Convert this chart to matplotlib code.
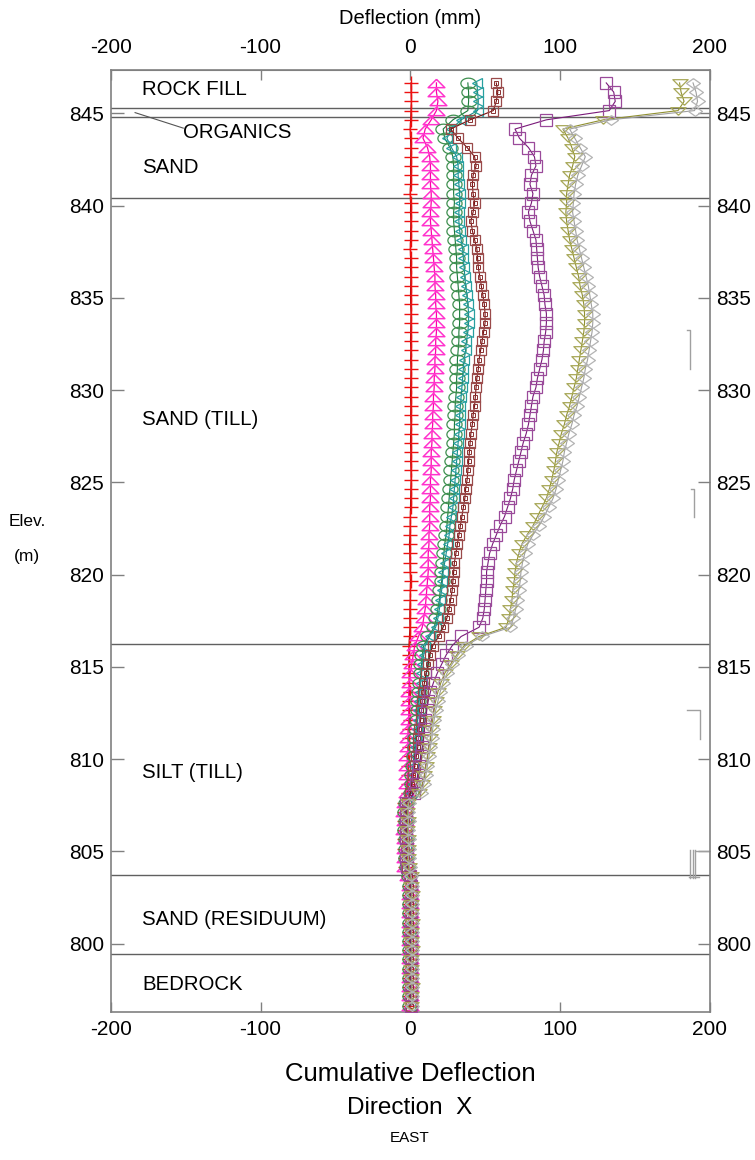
import numpy as np
import matplotlib.pyplot as plt

plt.rcParams['font.family'] = ['Liberation Sans', 'DejaVu Sans']
plt.rcParams['axes.unicode_minus'] = False

# elevation of each inclinometer reading (m), every 0.5 m
elev = np.arange(846.65, 796.6, -0.5)

# cumulative deflection (mm) for each survey
defl_red = [0.5, 0.6, 0.8, 0.5, 0.3, 0.0, 0.2, 0.4, 0.3, 0.2,
            0.3, 0.2, 0.0, 0.3, 0.2, 0.4, 0.3, 0.2, 0.1, 0.3,
            0.2, 0.4, 0.3, 0.2, 0.3, 0.5, 0.4, 0.3, 0.2, 0.4,
            0.3, 0.5, 0.4, 0.3, 0.2, 0.4, 0.3, 0.5, 0.3, 0.2,
            0.4, 0.3, 0.5, 0.6, 0.4, 0.3, 0.2, 0.1, 0.0, -0.2,
            -0.5, -0.3, -0.2, 0.0, 0.2, 0.1, 0.0, -0.2, -0.3, -0.2,
            -0.5, -0.8, -1.0, -0.8, -0.7, -0.6, -0.5, -0.7, -0.6, -0.5,
            -0.6, -0.7, -0.8, -1.0, -1.2, -1.3, -1.5, -1.8, -4.0, -4.3,
            -4.1, -4.0, -4.2, -3.9, -3.7, -3.3, -1.6, -1.0, -0.9, -1.0,
            -0.8, -0.9, -1.0, -0.8, -0.9, -0.7, -0.8, -0.9, -0.8, -0.7, -0.8]
defl_magenta = [17.5, 17.5, 18.5, 17.5, 14.0, 10.0, 8.5, 11.5, 13.0, 13.5,
                13.5, 13.5, 14.0, 14.0, 13.5, 13.5, 14.0, 14.5, 15.0, 15.5,
                16.0, 16.5, 16.5, 17.0, 17.0, 17.5, 17.5, 17.5, 17.0, 17.0,
                16.5, 16.5, 16.0, 16.0, 15.5, 15.5, 15.0, 15.0, 14.5, 14.5,
                14.0, 14.0, 14.0, 13.5, 13.5, 13.5, 13.0, 13.0, 13.0, 12.5,
                12.5, 12.0, 12.0, 12.0, 11.5, 11.0, 10.5, 10.0, 9.0, 8.0,
                5.5, 3.0, 2.0, 1.0, 0.0, -0.5, -1.0, -1.0, -1.0, -1.0,
                -1.5, -1.5, -1.5, -2.0, -2.0, -2.0, -2.5, -2.5, -3.8, -4.0,
                -3.8, -4.0, -3.8, -3.6, -3.6, -3.2, -1.2, -0.5, -0.3, -0.5,
                -0.3, -0.5, -0.4, -0.3, -0.5, -0.3, -0.4, -0.5, -0.3, -0.4, -0.5]
defl_green = [38.5, 39.0, 39.0, 38.5, 28.5, 22.0, 23.0, 26.5, 28.5, 29.0,
              29.0, 29.0, 29.0, 29.5, 29.0, 29.0, 29.5, 30.0, 30.5, 31.0,
              31.0, 31.5, 32.0, 32.5, 33.0, 33.0, 33.0, 32.5, 32.5, 32.0,
              31.5, 31.5, 31.0, 31.0, 30.5, 30.0, 30.0, 29.5, 29.5, 29.0,
              28.5, 28.0, 27.5, 27.0, 26.5, 26.0, 25.5, 25.0, 24.5, 24.0,
              23.0, 22.5, 22.0, 21.5, 21.0, 20.0, 19.5, 18.5, 17.5, 16.0,
              12.0, 9.0, 8.0, 7.5, 7.0, 6.5, 6.0, 5.5, 5.0, 4.5,
              4.0, 3.5, 3.0, 2.5, 2.0, 1.5, 1.0, 0.5, -3.0, -3.3,
              -3.1, -3.3, -3.0, -2.9, -3.1, -2.5, -0.7, 0.0, 0.1, -0.1,
              0.0, 0.1, -0.1, 0.0, 0.1, 0.0, -0.1, 0.0, 0.1, 0.0, -0.1]
defl_teal = [44.5, 45.0, 45.5, 45.0, 34.0, 27.5, 24.5, 27.5, 31.0, 32.0,
             32.0, 32.5, 33.0, 33.0, 32.5, 32.5, 33.0, 34.0, 35.0, 35.5,
             36.0, 36.5, 37.0, 38.0, 38.5, 39.0, 39.0, 38.5, 37.5, 37.0,
             36.0, 35.5, 35.0, 34.5, 34.0, 33.5, 33.0, 33.0, 32.5, 32.0,
             31.5, 31.0, 30.5, 30.0, 29.5, 29.0, 28.5, 27.5, 26.5, 26.0,
             25.0, 24.0, 23.0, 22.0, 21.5, 21.0, 20.0, 19.5, 18.5, 17.0,
             13.0, 10.0, 9.0, 8.0, 7.5, 7.0, 6.5, 6.0, 5.5, 5.0,
             4.5, 4.0, 3.5, 3.0, 2.0, 1.5, 1.0, 0.5, -2.8, -3.0,
             -2.9, -3.1, -2.8, -2.7, -2.9, -2.3, -0.5, 0.2, 0.3, 0.1,
             0.2, 0.3, 0.1, 0.2, 0.3, 0.2, 0.1, 0.2, 0.3, 0.2, 0.1]
defl_brown = [57.5, 58.5, 57.5, 55.5, 40.0, 27.0, 32.0, 38.0, 43.0, 44.0,
              42.0, 41.5, 42.0, 43.0, 42.0, 40.5, 41.5, 43.0, 44.5, 45.0,
              45.5, 46.5, 47.5, 48.5, 49.5, 50.0, 50.0, 49.0, 48.0, 47.0,
              46.0, 45.5, 44.5, 44.0, 43.5, 43.0, 42.0, 41.5, 40.5, 40.0,
              39.5, 39.0, 38.5, 38.0, 37.0, 36.5, 35.5, 34.5, 33.5, 32.5,
              31.5, 30.5, 29.5, 29.0, 28.5, 28.0, 27.0, 26.0, 24.5, 22.0,
              19.0, 15.0, 13.0, 12.0, 10.5, 9.5, 8.5, 8.0, 7.5, 7.0,
              6.0, 5.5, 5.0, 4.0, 3.0, 2.0, 1.0, 0.0, -2.4, -2.7,
              -2.5, -2.7, -2.4, -2.3, -2.5, -1.9, -0.2, 0.5, 0.6, 0.4,
              0.5, 0.6, 0.4, 0.5, 0.6, 0.5, 0.4, 0.5, 0.6, 0.5, 0.4]
defl_purple = [131, 136, 137, 133, 91, 70, 73, 79, 83, 84,
               81, 80, 82, 81, 79, 80, 82, 84, 84.5, 85,
               85.5, 86.5, 88, 89.5, 90, 91, 91, 90.5, 89.5, 89,
               88, 86.5, 85, 84, 82, 81, 80, 79, 77.5, 75.5,
               74, 72.5, 71, 69.5, 68.5, 67, 65, 63, 60, 57.5,
               55, 53, 52, 51, 51, 50.5, 50, 49.5, 48.5, 46,
               34, 28, 24, 21, 18, 15.5, 13.5, 12, 11, 10,
               9.5, 9, 8, 7, 6, 5, 4, 2.5, -2.6, -2.9,
               -2.7, -2.9, -2.6, -2.5, -2.7, -2.1, -0.4, 0.3, 0.4, 0.2,
               0.3, 0.4, 0.2, 0.3, 0.4, 0.3, 0.2, 0.3, 0.4, 0.3, 0.2]
defl_olive = [180, 181, 183, 179, 129, 102, 105.5, 108, 110, 108.5,
              106.5, 105.5, 104.5, 104.5, 104, 104.5, 105.5, 106.5, 108, 109.5,
              111, 112.5, 113.5, 115, 116, 116.5, 116.5, 116, 115, 114,
              113, 112, 111, 109.5, 108, 106.5, 104.5, 103, 101, 99.5,
              98, 97, 96, 94.5, 93, 91, 88, 85, 82, 78,
              74.5, 72.5, 71, 70, 69.5, 68.5, 68, 67, 66, 64,
              46, 36, 31, 27, 23, 20.5, 18.5, 17, 16, 15,
              14, 13.5, 12.5, 11.5, 10.5, 9.5, 8, 6, -1.6, -1.9,
              -1.7, -1.9, -1.6, -1.5, -1.7, -1.1, 0.3, 0.8, 0.9, 0.7,
              0.8, 0.9, 0.7, 0.8, 0.9, 0.8, 0.7, 0.8, 0.9, 0.8, 0.7]
defl_gray = [189, 191, 192, 190, 134, 106.5, 110, 113.5, 117, 114.5,
             112, 110.5, 109.5, 109, 108.5, 109.5, 110.5, 111.5, 113, 114.5,
             116, 117.5, 119, 120, 121, 122, 122, 121.5, 120.5, 119.5,
             118.5, 117, 116, 114.5, 113, 111.5, 109.5, 108, 106, 104.5,
             103, 102, 100.5, 99, 97.5, 95.5, 92.5, 89.5, 86, 82,
             78.5, 76.5, 75, 74, 73.5, 72.5, 71.5, 70.5, 69, 67,
             48, 37, 32, 28, 24.5, 22, 20, 18.5, 17, 16,
             15, 14.5, 13.5, 12.5, 11.5, 10.5, 9, 7, -1.0, -1.3,
             -1.1, -1.3, -1.0, -0.9, -1.1, -0.5, 0.6, 1.1, 1.2, 1.0,
             1.1, 1.2, 1.0, 1.1, 1.2, 1.1, 1.0, 1.1, 1.2, 1.1, 1.0]

# soil layers
layer_bounds = [845.28, 844.83, 840.40, 816.25, 803.73, 799.45]
layer_names = ['ROCK FILL', 'SAND', 'SAND (TILL)', 'SILT (TILL)',
               'SAND (RESIDUUM)', 'BEDROCK']
layer_label_y = [846.27, 842.05, 828.4, 809.3, 801.3, 797.8]

# custom marker shapes (flattened like the original plot)
t = np.linspace(0, 2 * np.pi, 25)
ellipse = list(zip(np.cos(t), 0.7 * np.sin(t)))
tri_up = [(0, 0.5), (-1, -0.5), (1, -0.5), (0, 0.5)]
tri_down = [(0, -0.5), (-1, 0.5), (1, 0.5), (0, -0.5)]
diamond = [(0, 0.7), (-1, 0), (0, -0.7), (1, 0), (0, 0.7)]

fig = plt.figure(figsize=(7.55, 11.6), dpi=100)
ax = fig.add_axes([111 / 755, 1 - 1012 / 1160, 598.5 / 755, 942 / 1160])

for y in layer_bounds:
    ax.axhline(y, color='#606060', lw=1.0, zorder=1)

ax.plot(defl_red, elev, color='#a01010', lw=0.9, marker='+', ms=10.5, mec='#ee1111', mew=1.0, zorder=3)
ax.plot(defl_magenta, elev, color='#ff00aa', lw=0.9, marker=tri_up, ms=12, mfc='none', mec='#ff33cc', mew=1.1, zorder=3)
ax.plot(defl_green, elev, color='#1a7a3a', lw=0.8, marker=ellipse, ms=11, mfc='none', mec='#3f9050', mew=0.9, zorder=3)
ax.plot(defl_teal, elev, color='#1a8a8a', lw=0.8, marker='<', ms=7, mfc='none', mec='#28a0a0', mew=0.9, zorder=3)
ax.plot(defl_brown, elev, color='#7a1010', lw=0.8, marker='s', ms=7.5, mfc='none', mec='#9a4a4a', mew=0.9, zorder=3)
ax.plot(defl_brown, elev, ls='none', marker='s', ms=3, mfc='none', mec='#8a3030', mew=0.7, zorder=3)
ax.plot(defl_purple, elev, color='#7a1a7a', lw=0.8, marker='s', ms=8.5, mfc='none', mec='#9a4a9a', mew=0.9, zorder=3)
ax.plot(defl_olive, elev, color='#909030', lw=0.8, marker=tri_down, ms=11, mfc='none', mec='#a8a858', mew=0.9, zorder=3)
ax.plot(defl_gray, elev, color='#a0a0a0', lw=0.8, marker=diamond, ms=10, mfc='none', mec='#b4b4b4', mew=0.9, zorder=3)

# small brackets near the right edge
ax.plot([184.7, 186.9, 186.9], [833.25, 833.25, 831.12], color='#a0a0a0', lw=1)
ax.plot([187.8, 189.4, 189.4], [824.66, 824.66, 823.11], color='#a0a0a0', lw=1)
ax.plot([184.7, 193.9, 193.9], [812.66, 812.66, 811.10], color='#a0a0a0', lw=1)
for bx in [186.9, 188.7, 190.2]:
    ax.plot([bx, bx], [805.1, 803.55], color='#a0a0a0', lw=1)
ax.plot([186.0, 193.0], [803.6, 803.6], color='#a0a0a0', lw=1)
ax.plot([190.2, 200], [805.0, 805.0], color='#a0a0a0', lw=1)

for name, y in zip(layer_names, layer_label_y):
    ax.text(-179, y, name, fontsize=14.7, va='center', ha='left')
ax.text(-151.7, 843.95, 'ORGANICS', fontsize=14.7, va='center', ha='left')
ax.plot([-183.9, -151.7], [845.04, 844.2], color='#555555', lw=0.8)

ax.set_xlim(-200, 200)
ax.set_ylim(796.3, 847.35)
ax.set_yticks(np.arange(800, 846, 5))
ax.set_xticks([-200, -100, 0, 100, 200])
for s in ax.spines.values():
    s.set_color('#808080')
    s.set_linewidth(1.2)
ax.tick_params(axis='y', direction='in', length=9, width=1, color='#808080',
               left=True, right=True, labelleft=True, labelright=True,
               labelsize=15, pad=5)
ax.tick_params(axis='x', direction='in', length=7, width=1, color='#808080',
               top=False, bottom=True, labelsize=15, pad=6)
top = ax.secondary_xaxis('top')
top.set_xticks([-200, -100, 0, 100, 200])
top.tick_params(direction='in', length=7, width=1, color='#808080',
                labelsize=15, pad=9)
top.spines['top'].set_color('#808080')

cx = 410 / 755
fig.text(cx, 1 - 18 / 1160, 'Deflection (mm)', fontsize=14.5, ha='center', va='center')
fig.text(cx, 1 - 1074 / 1160, 'Cumulative Deflection', fontsize=18.5, ha='center', va='center')
fig.text(cx, 1 - 1108 / 1160, 'Direction  X', fontsize=17.5, ha='center', va='center')
fig.text(cx, 1 - 1138 / 1160, 'EAST', fontsize=11, ha='center', va='center')
fig.text(27 / 755, 1 - 522 / 1160, 'Elev.', fontsize=12.5, ha='center', va='center')
fig.text(27 / 755, 1 - 556 / 1160, '(m)', fontsize=12.5, ha='center', va='center')

fig.savefig('out.png', dpi=100)
